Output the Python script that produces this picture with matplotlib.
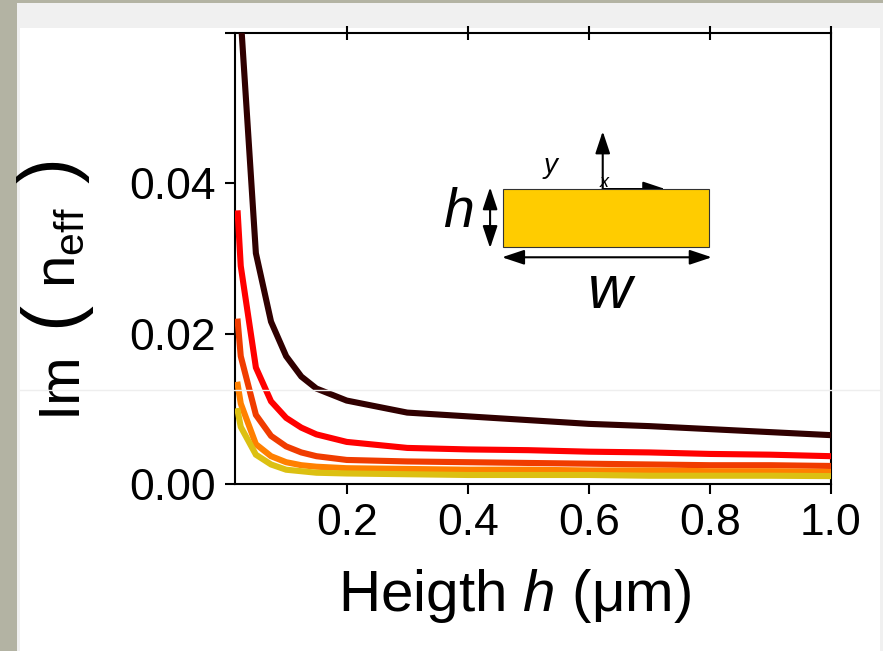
import numpy as np
import matplotlib
matplotlib.use('Agg')
import matplotlib.pyplot as plt
from matplotlib.patches import Rectangle
from matplotlib.lines import Line2D

plt.rcParams['font.family'] = ['Liberation Sans', 'DejaVu Sans']
plt.rcParams['mathtext.fontset'] = 'custom'
plt.rcParams['mathtext.rm'] = 'Liberation Sans'
plt.rcParams['mathtext.it'] = 'Liberation Sans:italic'

# heights (um) and Im(n_eff) for the five curves
heights = [0.02, 0.025, 0.05, 0.075, 0.1, 0.125, 0.15, 0.2, 0.3, 0.4, 0.5, 0.6, 0.7, 0.8, 0.9, 1.0]
im_dark = [0.085, 0.062, 0.0307, 0.0216, 0.0170, 0.0143, 0.0127, 0.0111, 0.0095, 0.0090,
           0.0085, 0.0080, 0.0077, 0.0073, 0.0069, 0.0065]
im_red = [0.036, 0.029, 0.0155, 0.0110, 0.0088, 0.0075, 0.0066, 0.0056, 0.0048, 0.0046,
          0.0045, 0.0043, 0.0042, 0.0040, 0.0039, 0.0037]
im_redorange = [0.0216, 0.0170, 0.0092, 0.0064, 0.0050, 0.0042, 0.0037, 0.0032, 0.0030, 0.0029,
                0.0028, 0.0027, 0.0026, 0.0025, 0.0025, 0.0024]
im_orange = [0.0132, 0.0107, 0.0053, 0.0037, 0.0029, 0.0025, 0.0023, 0.0021, 0.0020, 0.0019,
             0.0019, 0.0018, 0.0018, 0.0017, 0.0017, 0.0016]
im_yellow = [0.0097, 0.0076, 0.0039, 0.0026, 0.0019, 0.0017, 0.0015, 0.0014, 0.0013, 0.0012,
             0.0012, 0.0012, 0.0011, 0.0011, 0.0011, 0.00105]

x_ticks = [0.2, 0.4, 0.6, 0.8, 1.0]
x_ticklabels = ['0.2', '0.4', '0.6', '0.8', '1.0']
y_ticks = [0.0, 0.02, 0.04, 0.06]
y_ticklabels = ['0.00', '0.02', '0.04', '']

W, H = 883, 651


def px(x0, y0, w, h):
    # pixel box (top-left origin) -> figure fraction rect
    return (x0 / W, 1 - (y0 + h) / H), w / W, h / H


def draw_frame(fig):
    grey = '#b3b3a3'
    light = '#f0f0f0'
    for box, col in [((0, 0, 17, H), grey), ((0, 0, W, 3), grey),
                     ((17, 3, W - 17, 25), light), ((17, 28, 3, H - 28), light),
                     ((880, 28, 3, H - 28), light)]:
        xy, w, h = px(*box)
        fig.add_artist(Rectangle(xy, w, h, transform=fig.transFigure,
                                 facecolor=col, edgecolor='none', zorder=-5))
    # faint screen line across the slide
    fig.add_artist(Line2D([20 / W, 880 / W], [1 - 390 / H] * 2, transform=fig.transFigure,
                          color='#eeeeee', lw=1.0, zorder=20))


def draw_inset(ax):
    tr = ax.transAxes
    ax.add_patch(Rectangle((0.4497, 0.5255), 0.3453, 0.1285, transform=tr,
                           facecolor='#ffcc00', edgecolor='#333333', lw=0.8, zorder=5, clip_on=False))
    arrow2 = dict(arrowstyle='<|-|>,head_length=0.9,head_width=0.3', mutation_scale=15,
                  color='black', lw=1.5, shrinkA=0, shrinkB=0)
    arrow1 = dict(arrowstyle='-|>,head_length=0.9,head_width=0.3', mutation_scale=15,
                  color='black', lw=1.5, shrinkA=0, shrinkB=0)
    # width arrow
    ax.annotate('', xy=(0.800, 0.5027), xytext=(0.4480, 0.5027), xycoords=tr, arrowprops=arrow2)
    # height arrow
    ax.annotate('', xy=(0.428, 0.658), xytext=(0.428, 0.523), xycoords=tr, arrowprops=arrow2)
    # coordinate axes
    ax.annotate('', xy=(0.617, 0.782), xytext=(0.617, 0.654), xycoords=tr, arrowprops=arrow1)
    ax.annotate('', xy=(0.722, 0.654), xytext=(0.617, 0.654), xycoords=tr, arrowprops=arrow1)
    ax.text(0.620, 0.668, 'x', transform=tr, fontsize=13, ha='center', va='center', style='italic')
    ax.text(0.529, 0.706, 'y', transform=tr, fontsize=20, ha='center', va='center', style='italic')
    ax.text(0.375, 0.600, 'h', transform=tr, fontsize=40, ha='center', va='center', style='italic')
    ax.text(0.629, 0.425, 'w', transform=tr, fontsize=44, ha='center', va='center', style='italic')


def ylabel_pieces(fig):
    # vertical label built from pieces: "Im", big "(", n_eff, big ")"
    base_x = 75
    pieces = [('Im', 415, 42, base_x),
              ('(', 327, 56, base_x - 2),
              (r'$\mathrm{n}_{\mathrm{eff}}$', 288, 42, base_x),
              (')', 183, 56, base_x - 2)]
    for s, y0, fs, bx in pieces:
        fig.text(bx / W, 1 - y0 / H, s, fontsize=fs, rotation=90, rotation_mode='anchor',
                 ha='left', va='baseline')


def make_plot():
    fig = plt.figure(figsize=(W / 100, H / 100), dpi=100, facecolor='white')
    draw_frame(fig)
    ax = fig.add_axes([235 / W, 1 - 484 / H, (831 - 235) / W, (484 - 33) / H])

    colors = ['#300000', '#ff0000', '#f03c00', '#ff8000', '#dcc012']
    series = [im_dark, im_red, im_redorange, im_orange, im_yellow]
    for vals, col in zip(series, colors):
        ax.plot(heights, vals, color=col, lw=4.4, solid_joinstyle='miter', zorder=3)

    ax.set_xlim(0.0155, 1.0)
    ax.set_ylim(0, 0.06)
    ax.set_xticks(x_ticks)
    ax.set_xticklabels(x_ticklabels)
    ax.set_yticks(y_ticks)
    ax.set_yticklabels(y_ticklabels)
    ax.tick_params(axis='both', labelsize=32, width=1.5, length=7, pad=7, direction='out')
    ax.tick_params(axis='x', top=True, which='major')
    # top ticks cross the spine
    for t in ax.xaxis.get_major_ticks():
        t.tick2line.set_marker('|')
        t.tick2line.set_markersize(10)
    for sp in ax.spines.values():
        sp.set_linewidth(1.5)

    draw_inset(ax)

    fig.text(515 / W, 1 - 596 / H, r'Heigth $h$ ($\mathrm{\mu}$m)', fontsize=42,
             ha='center', va='center')
    ylabel_pieces(fig)

    fig.savefig('out.png', dpi=100, facecolor=fig.get_facecolor())


if __name__ == "__main__":
    make_plot()
